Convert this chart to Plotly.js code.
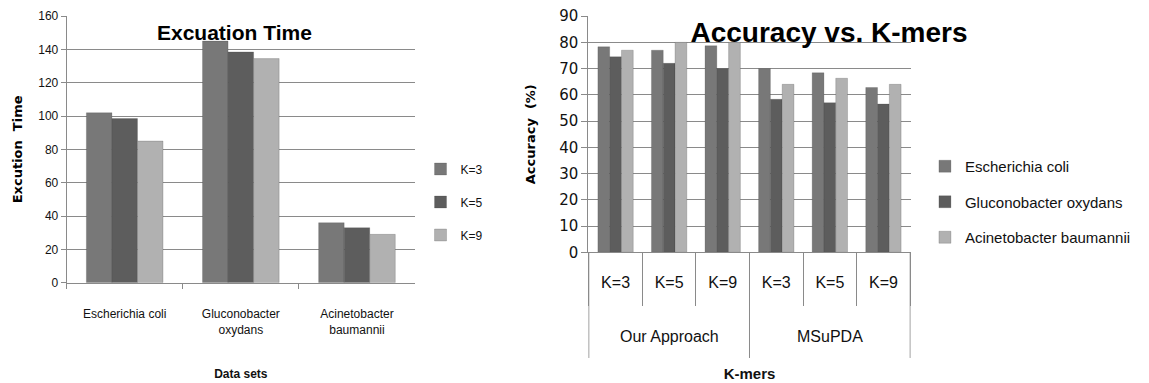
<!DOCTYPE html>
<html>
<head>
<meta charset="utf-8">
<script src="https://cdn.plot.ly/plotly-3.0.1.min.js"></script>
<style>
  html, body { margin: 0; padding: 0; background: #ffffff; }
  #chart { width: 1149px; height: 383px; }
</style>
</head>
<body>
<div id="chart"></div>
<script>
// ---- Execution time per data set (left panel) ----
const datasetLabels = ['Escherichia coli', 'Gluconobacter<br>oxydans', 'Acinetobacter<br>baumannii'];
const kLabels = ['K=3', 'K=5', 'K=9'];
const timeK3 = [102, 145, 36];
const timeK5 = [98.5, 138.5, 33];
const timeK9 = [85, 134.5, 29];

// ---- Accuracy per method and k-mer size (right panel) ----
const methods = ['Our Approach', 'MSuPDA'];
const methodGroups = ['Our Approach', 'Our Approach', 'Our Approach', 'MSuPDA', 'MSuPDA', 'MSuPDA'];
const kmerSizes = ['K=3', 'K=5', 'K=9', 'K=3', 'K=5', 'K=9'];
const speciesNames = ['Escherichia coli', 'Gluconobacter oxydans', 'Acinetobacter baumannii'];
const accEcoli = [78.3, 77, 78.7, 70, 68.4, 62.8];
const accGluconobacter = [74.5, 72, 70, 58.3, 57, 56.5];
const accAcinetobacter = [77, 80, 80, 64, 66.3, 64];

const barColors = ['#787878', '#5d5d5d', '#b1b1b1'];
const edge = { color: 'rgba(60,60,60,0.35)', width: 0.6 };

const SANS = '"Liberation Sans", Arial, sans-serif';
const DEJAVU = '"DejaVu Sans", Verdana, sans-serif';
const GRID = '#8a8a8a';
const INK = '#111111';

// one unique category per (method, k) pair; the k value is shown as the tick text
const accCategories = methodGroups.map((m, i) => m + ' ' + kmerSizes[i]);

const timeSeries = [timeK3, timeK5, timeK9];
const accSeries = [accEcoli, accGluconobacter, accAcinetobacter];

const traces = [];
timeSeries.forEach((vals, i) => {
  traces.push({
    type: 'bar', name: kLabels[i], x: datasetLabels, y: vals,
    xaxis: 'x', yaxis: 'y', legend: 'legend', legendgroup: 'k' + i,
    marker: { color: barColors[i], line: edge }, hoverinfo: 'x+y+name'
  });
});
accSeries.forEach((vals, i) => {
  traces.push({
    type: 'bar', name: speciesNames[i], x: accCategories, y: vals,
    xaxis: 'x2', yaxis: 'y2', legend: 'legend2', legendgroup: 's' + i,
    marker: { color: barColors[i], line: edge }, hoverinfo: 'y+name'
  });
});

// method names centred under their three k-mer columns
const methodCenters = methods.map((m, j) => j * 3 + 1);
const groupAnnotations = methods.map((m, j) => ({
  text: m, showarrow: false,
  xref: 'x2', x: methodCenters[j], yref: 'paper', y: 0.1227, yanchor: 'middle',
  font: { family: SANS, size: 16, color: INK }
}));

// long separators framing each method group below the axis
const groupEdges = [-0.5, 2.5, 5.5];
const dividerShapes = groupEdges.map(v => ({
  type: 'line', xref: 'x2', x0: v, x1: v, yref: 'paper', y0: 0.3412, y1: 0.0653,
  line: { color: GRID, width: 1 }
}));

const layout = {
  width: 1149, height: 383,
  margin: { l: 0, r: 0, t: 0, b: 0 },
  paper_bgcolor: '#ffffff', plot_bgcolor: '#ffffff',
  barmode: 'group', bargap: 0.34, bargroupgap: 0,
  showlegend: true,
  title: {
    text: 'Accuracy vs. K-mers',
    font: { family: SANS, size: 28, color: '#000000', weight: 'bold' },
    x: 0.7215, xanchor: 'center', xref: 'paper',
    y: 0.916, yanchor: 'middle', yref: 'container'
  },
  annotations: [{
    text: 'Excuation Time', showarrow: false,
    xref: 'paper', yref: 'paper', x: 0.2045, xanchor: 'center', y: 0.914, yanchor: 'middle',
    font: { family: SANS, size: 21, color: '#000000', weight: 'bold' }
  }].concat(groupAnnotations),
  shapes: dividerShapes,
  xaxis: {
    domain: [0.058, 0.3612], anchor: 'y', type: 'category',
    showline: true, linecolor: GRID, linewidth: 1,
    ticks: 'outside', tickson: 'boundaries', ticklen: 5, tickcolor: GRID,
    ticklabelstandoff: 20,
    tickfont: { family: SANS, size: 12, color: INK },
    title: { text: 'Data sets', font: { family: SANS, size: 12, color: INK, weight: 'bold' }, standoff: 33 },
    automargin: false, fixedrange: true
  },
  yaxis: {
    domain: [0.2619, 0.958], anchor: 'x', range: [0, 160], dtick: 20,
    showgrid: true, gridcolor: GRID, gridwidth: 1,
    showline: true, linecolor: GRID, linewidth: 1, zeroline: false,
    ticks: 'outside', ticklen: 5, tickcolor: GRID,
    tickfont: { family: SANS, size: 12, color: INK },
    title: { text: 'Excution  Time', font: { family: DEJAVU, size: 13, color: '#000000', weight: 'bold' }, standoff: 12 },
    automargin: false, fixedrange: true
  },
  xaxis2: {
    domain: [0.512, 0.7926], anchor: 'y2', type: 'category',
    showline: true, linecolor: GRID, linewidth: 1,
    ticks: 'outside', tickson: 'boundaries', ticklen: 53, tickcolor: GRID,
    tickvals: accCategories, ticktext: kmerSizes,
    ticklabelstandoff: 15,
    tickfont: { family: SANS, size: 16, color: INK },
    title: { text: 'K-mers', font: { family: SANS, size: 15, color: INK, weight: 'bold' }, standoff: 78 },
    automargin: false, fixedrange: true
  },
  yaxis2: {
    domain: [0.3412, 0.958], anchor: 'x2', range: [0, 90], dtick: 10,
    showgrid: true, gridcolor: GRID, gridwidth: 1,
    showline: true, linecolor: GRID, linewidth: 1, zeroline: false,
    ticks: 'outside', ticklen: 6, tickcolor: GRID,
    tickfont: { family: DEJAVU, size: 15, color: INK },
    title: { text: 'Accuracy  (%)', font: { family: DEJAVU, size: 13, color: '#000000', weight: 'bold' }, standoff: 20 },
    automargin: false, fixedrange: true
  },
  legend: {
    x: 0.366, xanchor: 'left', y: 0.4726, yanchor: 'middle',
    font: { family: SANS, size: 12, color: INK },
    tracegroupgap: 14, itemwidth: 30, bgcolor: 'rgba(0,0,0,0)'
  },
  legend2: {
    x: 0.805, xanchor: 'left', y: 0.4726, yanchor: 'middle',
    font: { family: SANS, size: 15, color: INK },
    tracegroupgap: 13, itemwidth: 30, bgcolor: 'rgba(0,0,0,0)'
  }
};

Plotly.newPlot('chart', traces, layout, { displayModeBar: false, staticPlot: true });
</script>
</body>
</html>
